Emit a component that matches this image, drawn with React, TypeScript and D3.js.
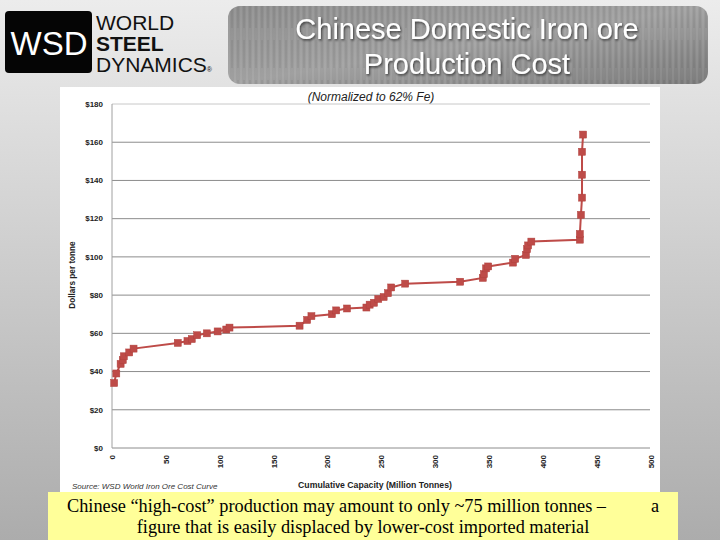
import { useEffect, useRef } from "react";
import * as d3 from "d3";

// cumulative capacity (million tonnes) and cash cost ($/t, 62% Fe)
const capacity = [
  2, 4, 8, 10, 11, 16, 20, 61, 70, 74, 79, 88, 98, 106, 109, 174, 181, 185,
  204, 208, 218, 236, 239, 243, 247, 252, 256, 259, 272, 323, 344, 345, 347,
  349, 372, 374, 384, 385, 386, 389, 434, 434, 435, 436, 436, 436, 437,
];
const cost = [
  34, 39, 44, 46, 48, 50, 52, 55, 56, 57, 59, 60, 61, 62, 63, 64, 67, 69, 70,
  72, 73, 73.5, 75, 76, 78, 79, 81, 84, 86, 87, 89, 91, 94, 95, 97, 99, 101,
  104, 106, 108, 109, 112, 122, 131, 143, 155, 164,
];
const yTicks = [0, 20, 40, 60, 80, 100, 120, 140, 160, 180];
const xTicks = [0, 50, 100, 150, 200, 250, 300, 350, 400, 450, 500];

const titleLines = ["Chinese Domestic Iron ore", "Production Cost"];
const subtitle = "(Normalized to 62% Fe)";
const yLabel = "Dollars per tonne";
const xLabel = "Cumulative Capacity  (Million Tonnes)";
const source = "Source:  WSD World Iron Ore Cost Curve";

export default function App() {
  const svgRef = useRef<SVGSVGElement>(null);

  useEffect(() => {
    if (!svgRef.current) return;
    const svg = d3.select(svgRef.current);
    svg.selectAll(".chart").remove();

    const x = d3.scaleLinear().domain([0, 500]).range([112, 651]);
    const y = d3.scaleLinear().domain([0, 180]).range([448, 104]);

    const g = svg.append("g").attr("class", "chart");

    // grid lines
    g.selectAll(".grid")
      .data(yTicks)
      .enter()
      .append("line")
      .attr("x1", x(0))
      .attr("x2", x(500) - 1)
      .attr("y1", (d) => y(d))
      .attr("y2", (d) => y(d))
      .style("stroke", (d) => (d === 180 ? "#c8c8c8" : "#8c8c8c"))
      .style("stroke-width", 1);

    // left axis line
    g.append("line")
      .attr("x1", x(0))
      .attr("x2", x(0))
      .attr("y1", y(180))
      .attr("y2", y(0))
      .style("stroke", "#a0a0a0");

    // y tick labels
    g.selectAll(".ytick")
      .data(yTicks)
      .enter()
      .append("text")
      .attr("x", 103)
      .attr("y", (d) => y(d))
      .attr("dy", "0.35em")
      .attr("text-anchor", "end")
      .text((d) => `$${d}`)
      .style("font-family", "Liberation Sans, Arial, sans-serif")
      .style("font-size", "8px")
      .style("font-weight", "bold")
      .style("fill", "#222");

    // x tick labels (rotated)
    g.selectAll(".xtick")
      .data(xTicks)
      .enter()
      .append("text")
      .attr("transform", (d) => `translate(${x(d)},455) rotate(-90)`)
      .attr("dy", "0.35em")
      .attr("text-anchor", "end")
      .text((d) => d)
      .style("font-family", "Liberation Sans, Arial, sans-serif")
      .style("font-size", "8px")
      .style("font-weight", "bold")
      .style("fill", "#222");

    // the cost curve
    const pts = capacity.map((c, i) => [c, cost[i]] as [number, number]);
    const line = d3
      .line<[number, number]>()
      .x((d) => x(d[0]))
      .y((d) => y(d[1]));

    g.append("path")
      .datum(pts)
      .attr("d", line)
      .style("fill", "none")
      .style("stroke", "#be4b48")
      .style("stroke-width", 2);

    const s = 7;
    g.selectAll(".pt")
      .data(pts)
      .enter()
      .append("rect")
      .attr("x", (d) => x(d[0]) - s / 2)
      .attr("y", (d) => y(d[1]) - s / 2)
      .attr("width", s)
      .attr("height", s)
      .style("fill", "#be4b48")
      .style("stroke", "#b0403d")
      .style("stroke-width", 0.5);
  }, []);

  const sans = "Liberation Sans, Arial, sans-serif";
  const serif = "Liberation Serif, Times New Roman, serif";

  return (
    <div style={{ width: 720, height: 540 }}>
      <style>{`body{margin:0}`}</style>
      <svg ref={svgRef} width={720} height={540} style={{ display: "block" }}>
        <defs>
          <linearGradient id="bg" x1="0" y1="0" x2="0" y2="1">
            <stop offset="0" stopColor="#ececec" />
            <stop offset="1" stopColor="#acacac" />
          </linearGradient>
          <linearGradient id="titleBg" x1="0" y1="0" x2="1" y2="1">
            <stop offset="0" stopColor="#8e8e8e" />
            <stop offset="0.5" stopColor="#a0a0a0" />
            <stop offset="1" stopColor="#7c7c7c" />
          </linearGradient>
          <pattern id="streaks" width="6" height="40" patternUnits="userSpaceOnUse">
            <line x1="1" y1="0" x2="1" y2="40" stroke="#ffffff" strokeOpacity="0.14" />
            <line x1="4" y1="0" x2="4" y2="28" stroke="#000000" strokeOpacity="0.1" />
          </pattern>
          <filter id="shadow" x="-10%" y="-10%" width="120%" height="140%">
            <feDropShadow dx="1" dy="1.5" stdDeviation="1" floodColor="#000" floodOpacity="0.6" />
          </filter>
        </defs>

        <rect width={720} height={540} fill="url(#bg)" />

        {/* logo */}
        <rect x={5} y={11} width={87} height={62} rx={4} fill="#050505" />
        <text x={49} y={55} textAnchor="middle" fill="#fff" fontFamily={sans} fontSize={33}>
          WSD
        </text>
        <text x={96} y={30} fill="#111" fontFamily={sans} fontSize={21}>
          WORLD
        </text>
        <text x={96} y={51} fill="#111" fontFamily={sans} fontSize={21} fontWeight="bold">
          STEEL
        </text>
        <text x={96} y={72} fill="#111" fontFamily={sans} fontSize={21}>
          DYNAMICS<tspan fontSize={7}>®</tspan>
        </text>

        {/* title box */}
        <rect x={228} y={6} width={480} height={78} rx={12} fill="url(#titleBg)" />
        <rect x={228} y={6} width={480} height={78} rx={12} fill="url(#streaks)" />
        <g filter="url(#shadow)" fill="#fff" fontFamily={sans} fontSize={29} textAnchor="middle">
          <text x={467} y={39}>{titleLines[0]}</text>
          <text x={467} y={74}>{titleLines[1]}</text>
        </g>

        {/* chart panel */}
        <rect x={60} y={87} width={600} height={405} fill="#fff" />
        <text x={371} y={101} textAnchor="middle" fontFamily={sans} fontSize={12} fontStyle="italic" fill="#222">
          {subtitle}
        </text>
        <text
          transform="translate(75,275) rotate(-90)"
          textAnchor="middle"
          fontFamily={sans}
          fontSize={8.2}
          fontWeight="bold"
          fill="#222"
        >
          {yLabel}
        </text>
        <text x={375} y={488} textAnchor="middle" fontFamily={sans} fontSize={8.7} fontWeight="bold" fill="#222">
          {xLabel}
        </text>
        <text x={72} y={489} fontFamily={sans} fontSize={8} fontStyle="italic" fill="#333">
          {source}
        </text>

        {/* caption */}
        <rect x={48} y={492} width={630} height={48} fill="#ffff99" />
        <g fontFamily={serif} fontSize={18.3} fill="#000">
          <text x={67} y={512}>
            Chinese “high-cost” production may amount to only ~75 million tonnes –
          </text>
          <text x={651} y={512}>a</text>
          <text x={363} y={533} textAnchor="middle">
            figure that is easily displaced by lower-cost imported material
          </text>
        </g>
      </svg>
    </div>
  );
}
